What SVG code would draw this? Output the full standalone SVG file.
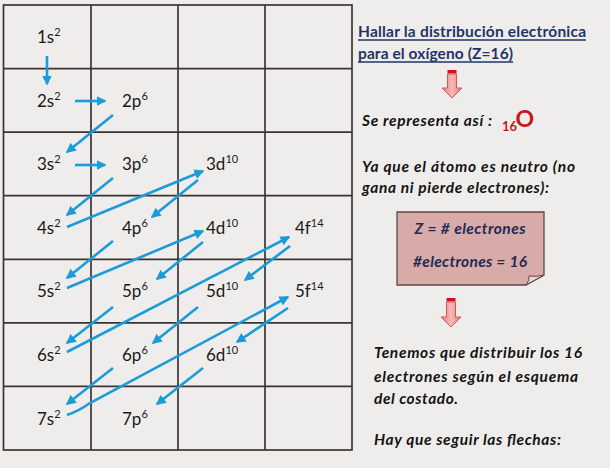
<svg xmlns="http://www.w3.org/2000/svg" width="610" height="468" viewBox="0 0 610 468">
<defs>
<style>
.lbl{font-family:Lato,"Open Sans","Liberation Sans",sans-serif;font-size:17px;fill:#1a1a1a}
.sup{font-size:11px}
.grid{stroke:#3a3532;stroke-width:1.7;fill:none}
.arr{stroke:#1b9cd8;stroke-width:2.6;fill:none;marker-end:url(#ah)}
.ttl{font-family:Lato,"Open Sans","Liberation Sans",sans-serif;font-size:15.5px;font-weight:bold;fill:#1f3566}
.body{font-family:Lato,"Open Sans","Liberation Sans",sans-serif;font-size:15.5px;font-weight:bold;font-style:italic;fill:#141414}
.boxt{font-family:Lato,"Open Sans","Liberation Sans",sans-serif;font-size:15.5px;font-weight:bold;font-style:italic;fill:#1f2a55}
.red{fill:#c8161d;font-family:Lato,"Open Sans","Liberation Sans",sans-serif;font-weight:bold}
.rarrow{fill:url(#rg);stroke:#d9534f;stroke-width:1}
</style>
<marker id="ah" viewBox="0 0 10 10" refX="8.5" refY="5" markerWidth="10" markerHeight="10" markerUnits="userSpaceOnUse" orient="auto">
<path d="M0,0 L10,5 L0,10 z" fill="#1b9cd8"/>
</marker>
<linearGradient id="rg" x1="0" y1="0" x2="1" y2="0">
<stop offset="0" stop-color="#e98080"/>
<stop offset="0.5" stop-color="#f6b9b7"/>
<stop offset="1" stop-color="#e47a78"/>
</linearGradient>
</defs>
<rect width="610" height="468" fill="#efedeb"/>

<g id="grid">
<rect x="3.5" y="5" width="348.5" height="445" class="grid" fill="#f0eeec"/>
<line x1="91" y1="5" x2="91" y2="450" class="grid"/>
<line x1="178" y1="5" x2="178" y2="450" class="grid"/>
<line x1="265" y1="5" x2="265" y2="450" class="grid"/>
<line x1="3.5" y1="68.6" x2="352" y2="68.6" class="grid"/>
<line x1="3.5" y1="132.1" x2="352" y2="132.1" class="grid"/>
<line x1="3.5" y1="195.7" x2="352" y2="195.7" class="grid"/>
<line x1="3.5" y1="259.3" x2="352" y2="259.3" class="grid"/>
<line x1="3.5" y1="322.9" x2="352" y2="322.9" class="grid"/>
<line x1="3.5" y1="386.4" x2="352" y2="386.4" class="grid"/>
</g>

<g id="n1s"><text class="lbl" x="37" y="43">1s<tspan class="sup" dy="-7">2</tspan></text></g>
<g id="n2s"><text class="lbl" x="37" y="107">2s<tspan class="sup" dy="-7">2</tspan></text></g>
<g id="n2p"><text class="lbl" x="122" y="107">2p<tspan class="sup" dy="-7">6</tspan></text></g>
<g id="n3s"><text class="lbl" x="37" y="170">3s<tspan class="sup" dy="-7">2</tspan></text></g>
<g id="n3p"><text class="lbl" x="122" y="170">3p<tspan class="sup" dy="-7">6</tspan></text></g>
<g id="n3d"><text class="lbl" x="206" y="170">3d<tspan class="sup" dy="-7">10</tspan></text></g>
<g id="n4s"><text class="lbl" x="37" y="234">4s<tspan class="sup" dy="-7">2</tspan></text></g>
<g id="n4p"><text class="lbl" x="122" y="234">4p<tspan class="sup" dy="-7">6</tspan></text></g>
<g id="n4d"><text class="lbl" x="206" y="234">4d<tspan class="sup" dy="-7">10</tspan></text></g>
<g id="n4f"><text class="lbl" x="295" y="234">4f<tspan class="sup" dy="-7">14</tspan></text></g>
<g id="n5s"><text class="lbl" x="37" y="297">5s<tspan class="sup" dy="-7">2</tspan></text></g>
<g id="n5p"><text class="lbl" x="122" y="297">5p<tspan class="sup" dy="-7">6</tspan></text></g>
<g id="n5d"><text class="lbl" x="206" y="297">5d<tspan class="sup" dy="-7">10</tspan></text></g>
<g id="n5f"><text class="lbl" x="295" y="297">5f<tspan class="sup" dy="-7">14</tspan></text></g>
<g id="n6s"><text class="lbl" x="37" y="361">6s<tspan class="sup" dy="-7">2</tspan></text></g>
<g id="n6p"><text class="lbl" x="122" y="361">6p<tspan class="sup" dy="-7">6</tspan></text></g>
<g id="n6d"><text class="lbl" x="206" y="361">6d<tspan class="sup" dy="-7">10</tspan></text></g>
<g id="n7s"><text class="lbl" x="37" y="425">7s<tspan class="sup" dy="-7">2</tspan></text></g>
<g id="n7p"><text class="lbl" x="122" y="425">7p<tspan class="sup" dy="-7">6</tspan></text></g>

<g id="connectors">
<line class="arr" x1="47" y1="56" x2="47" y2="84"/>
<line class="arr" x1="75" y1="101" x2="105" y2="101"/>
<line class="arr" x1="113" y1="115" x2="67" y2="152"/>
<line class="arr" x1="75" y1="165" x2="105" y2="165"/>
<line class="arr" x1="113" y1="178" x2="67" y2="215"/>
<line class="arr" x1="67" y1="227" x2="203" y2="171"/>
<line class="arr" x1="198" y1="180" x2="152" y2="217"/>
<line class="arr" x1="113" y1="241" x2="67" y2="278"/>
<line class="arr" x1="67" y1="288" x2="203" y2="231"/>
<line class="arr" x1="203" y1="242" x2="157" y2="279"/>
<line class="arr" x1="113" y1="307" x2="67" y2="343"/>
<line class="arr" x1="67" y1="352" x2="289" y2="237"/>
<line class="arr" x1="290" y1="246" x2="245" y2="280"/>
<line class="arr" x1="198" y1="307" x2="153" y2="343"/>
<line class="arr" x1="113" y1="368" x2="67" y2="404"/>
<path class="arr" d="M67,415 C76,412 83,408 90,403 L288,297"/>
<line class="arr" x1="288" y1="308" x2="237" y2="342"/>
<line class="arr" x1="203" y1="368" x2="157" y2="404"/>
</g>

<g id="title">
<text class="ttl" x="358" y="37" textLength="228">Hallar la distribución electrónica</text>
<text class="ttl" x="358" y="59" textLength="155">para el oxígeno (Z=16)</text>
<line x1="358" y1="40" x2="586" y2="40" stroke="#1f3566" stroke-width="1.3"/>
<line x1="358" y1="62" x2="513" y2="62" stroke="#1f3566" stroke-width="1.3"/>
</g>

<g id="arrow-red-1">
<rect x="447.5" y="70" width="9" height="3.5" fill="#c8161d"/>
<path class="rarrow" d="M447.5,74 H456.5 V88 H462 L452,98 L442,88 H447.5 Z"/>
</g>

<g id="represent">
<text class="body" x="362" y="126" textLength="130">Se representa así :</text>
<text class="red" x="502" y="131" font-size="13">16</text>
<text class="red" x="515.5" y="127" font-size="23">O</text>
</g>

<g id="neutro">
<text class="body" x="362" y="172" textLength="213">Ya que el átomo es neutro (no</text>
<text class="body" x="362" y="193" textLength="187">gana ni pierde electrones):</text>
</g>

<g id="box">
<path d="M397,212 H544 V275 L526,285 H397 Z" fill="#d8aaa8" stroke="#5a4a4a" stroke-width="1.3"/>
<path d="M526,285 Q530,280 529,276 Q537,277 544,275 Z" fill="#ecd2d0" stroke="#5a4a4a" stroke-width="1"/>
<text class="boxt" x="470" y="234" text-anchor="middle" textLength="111">Z = # electrones</text>
<text class="boxt" x="470" y="267" text-anchor="middle" textLength="114">#electrones = 16</text>
</g>

<g id="arrow-red-2">
<rect x="446.5" y="298" width="9" height="3.5" fill="#c8161d"/>
<path class="rarrow" d="M446.5,302 H455.5 V317 H461 L451,327 L441,317 H446.5 Z"/>
</g>

<g id="distribuir">
<text class="body" x="374" y="358" textLength="208">Tenemos que distribuir los 16</text>
<text class="body" x="374" y="382" textLength="204">electrones según el esquema</text>
<text class="body" x="374" y="404" textLength="84">del costado.</text>
<text class="body" x="374" y="445" textLength="187">Hay que seguir las flechas:</text>
</g>
</svg>
